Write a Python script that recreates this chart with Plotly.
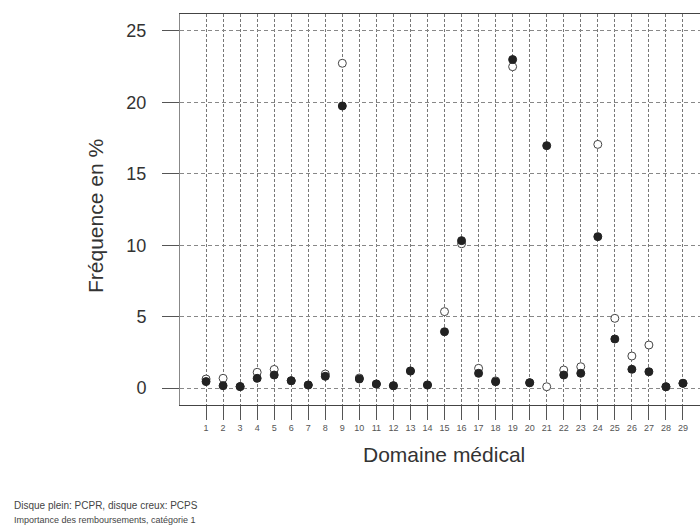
import plotly.graph_objects as go

domaines = list(range(1, 30))
tick_labels = [str(d) for d in domaines]

# Disque plein: PCPR
pcpr = [0.45, 0.16, 0.10, 0.68, 0.91, 0.51, 0.21, 0.82, 19.75, 0.63,
        0.28, 0.16, 1.19, 0.21, 3.94, 10.32, 1.03, 0.44, 23.0, 0.37,
        16.97, 0.91, 1.03, 10.6, 3.43, 1.31, 1.14, 0.09, 0.33]
# Disque creux: PCPS
pcps = [0.63, 0.68, 0.10, 1.10, 1.30, 0.51, 0.21, 0.98, 22.74, 0.70,
        0.28, 0.16, 1.19, 0.21, 5.35, 10.10, 1.38, 0.50, 22.5, 0.37,
        0.09, 1.26, 1.49, 17.06, 4.88, 2.24, 3.01, 0.09, 0.33]

y_ticks = [0, 5, 10, 15, 20, 25]

L, T, B, W, H = 180, 14, 122, 700, 527
PW, PH = W - L, H - T - B

def px(xp):
    return (xp - L) / PW

def py(yp):
    return (H - B - yp) / PH

fig = go.Figure()
fig.add_trace(go.Scatter(
    x=domaines, y=pcps, mode="markers", name="PCPS",
    marker=dict(symbol="circle", size=8, color="white",
                line=dict(color="#444444", width=1)),
    showlegend=False))
fig.add_trace(go.Scatter(
    x=domaines, y=pcpr, mode="markers", name="PCPR",
    marker=dict(symbol="circle", size=8, color="#222222",
                line=dict(color="#222222", width=1)),
    showlegend=False))

fig.update_layout(
    width=W, height=H,
    margin=dict(l=L, r=0, t=T, b=B),
    paper_bgcolor="white", plot_bgcolor="white",
    font=dict(family="Liberation Sans, Arial, sans-serif", color="#333333"),
    xaxis=dict(
        range=[-0.53, 30.0],
        tickmode="array", tickvals=domaines, ticktext=tick_labels,
        tickfont=dict(size=9, color="#555555"),
        ticks="outside", ticklen=14, tickcolor="#555555", tickwidth=1,
        showgrid=True, gridcolor="#777777", gridwidth=1, griddash="3px,2px",
        showline=True, linecolor="#444444", linewidth=1, mirror=True,
        zeroline=False,
    ),
    yaxis=dict(
        range=[-1.19, 26.19],
        tickmode="array", tickvals=y_ticks, ticktext=[str(v) for v in y_ticks],
        tickfont=dict(size=18, color="#333333"),
        ticks="outside", ticklen=17, tickcolor="#555555", tickwidth=1,
        ticklabelstandoff=12,
        showgrid=True, gridcolor="#888888", gridwidth=1, griddash="4px,3px",
        showline=True, linecolor="#888888", linewidth=1,
        zeroline=False,
    ),
)

fig.add_annotation(text="Domaine médical", xref="paper", yref="paper",
                   x=px(444), y=py(454), xanchor="center", yanchor="middle",
                   showarrow=False, font=dict(size=21, color="#333333"))
fig.add_annotation(text="Fréquence en %", xref="paper", yref="paper",
                   x=px(95), y=py(216), xanchor="center", yanchor="middle",
                   textangle=-90, showarrow=False,
                   font=dict(size=21, color="#333333"))
fig.add_annotation(text="Disque plein: PCPR, disque creux: PCPS",
                   xref="paper", yref="paper",
                   x=px(12), y=py(505),
                   xanchor="left", yanchor="middle", showarrow=False,
                   font=dict(size=10, color="#444444"))
fig.add_annotation(text="Importance des remboursements, catégorie 1",
                   xref="paper", yref="paper",
                   x=px(12), y=py(520),
                   xanchor="left", yanchor="middle", showarrow=False,
                   font=dict(size=9, color="#444444"))

fig.write_html("out.html")
